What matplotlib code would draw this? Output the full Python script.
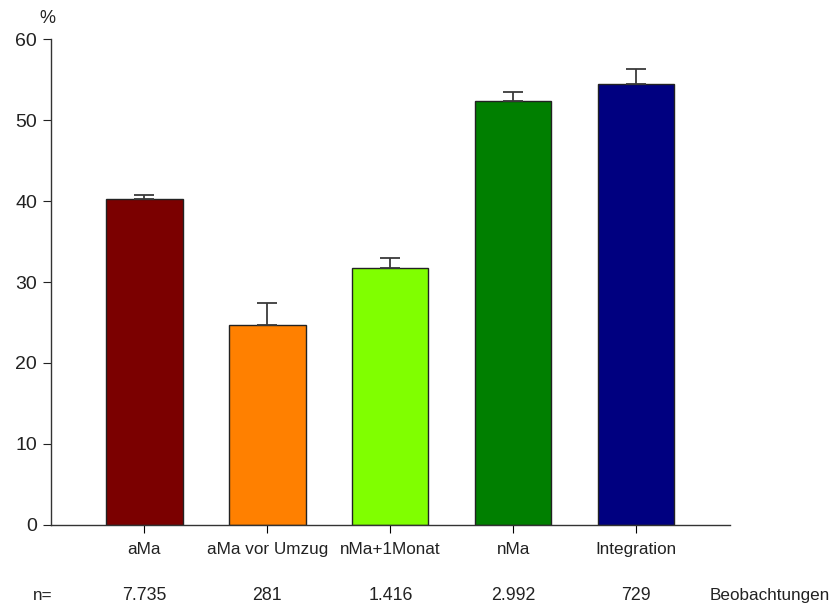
import matplotlib.pyplot as plt
import matplotlib.transforms as mtransforms

plt.rcParams['font.family'] = ['Liberation Sans', 'DejaVu Sans']

categories = ["aMa", "aMa vor Umzug", "nMa+1Monat", "nMa", "Integration"]
values = [40.2, 24.7, 31.7, 52.4, 54.5]
errors = [0.5, 2.7, 1.3, 1.0, 1.8]
counts = ["7.735", "281", "1.416", "2.992", "729"]
colors = ["#7b0000", "#ff8000", "#80ff00", "#007f00", "#000080"]

fig = plt.figure(figsize=(8.32, 6.06), dpi=100)
ax = fig.add_axes([0.0613, 0.1337, 0.8157, 0.8019])

x = list(range(len(categories)))
ax.bar(x, values, width=0.62, color=colors, edgecolor="#222222", linewidth=1.0,
       yerr=[[0] * len(errors), errors], capsize=7,
       error_kw=dict(ecolor="#3a3a3a", elinewidth=1.3, capthick=1.3))

ax.set_xlim(-0.76, 4.76)
ax.set_ylim(0, 60)
ax.set_yticks(range(0, 61, 10))
ax.set_xticks(x)
ax.set_xticklabels(categories, fontsize=12.3, color="#222222")
ax.tick_params(axis="y", labelsize=14, direction="out", length=6, pad=4, colors="#222222")
ax.tick_params(axis="x", direction="out", length=6, pad=6)

for side in ["top", "right"]:
    ax.spines[side].set_visible(False)
for side in ["left", "bottom"]:
    ax.spines[side].set_color("#333333")
    ax.spines[side].set_linewidth(1.0)

ax.text(-0.005, 1.025, "%", transform=ax.transAxes, fontsize=13, ha="center", va="bottom",
        color="#222222")

# Fallzahlen unter den Balken
trans = mtransforms.blended_transform_factory(ax.transData, ax.transAxes)
row_y = -0.146
for xi, n in zip(x, counts):
    ax.text(xi, row_y, n, transform=trans, ha="center", va="center", fontsize=12.8,
            color="#222222")
ax.text(-0.83, row_y, "n=", transform=trans, ha="center", va="center", fontsize=12.3,
        color="#222222")
ax.text(4.6, row_y, "Beobachtungen", transform=trans, ha="left", va="center",
        fontsize=12.3, color="#222222")

fig.savefig("out.png", dpi=100)
